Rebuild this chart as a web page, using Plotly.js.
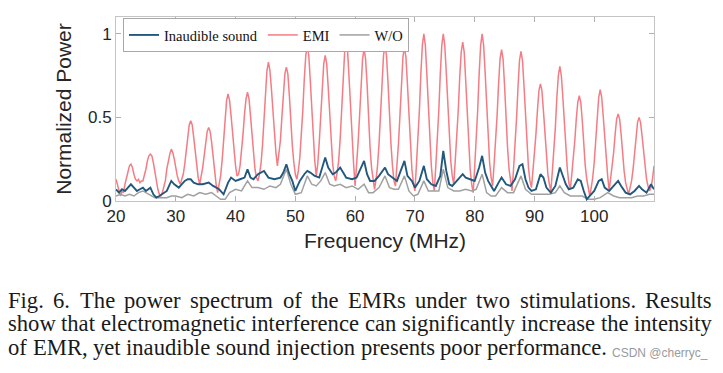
<!DOCTYPE html>
<html><head><meta charset="utf-8">
<script src="https://cdn.plot.ly/plotly-3.0.1.min.js"></script>
<style>html,body{margin:0;padding:0;background:#fff;}#chart{width:723px;height:373px;}</style>
</head><body><div id="chart"></div>
<script>
// ---------- data ----------
const seriesNames = ["Inaudible sound", "EMI", "W/O"];
const xTickVals = [20, 30, 40, 50, 60, 70, 80, 90, 100];
const xTickText = ["20", "30", "40", "50", "60", "70", "80", "90", "100"];
const yTickVals = [0, 0.5, 1];
const yTickText = ["0", "0.5", "1"];

// EMI spectrum sampled every 0.25 MHz from 20 MHz
const emiStartMHz = 20;
const emiStepMHz = 0.25;
const emiPower = [
0.13,0.09,0.05,0.03,0.06,0.05,0.10,0.14,0.18,0.21,0.22,0.20,0.16,0.13,0.12,0.13,0.11,0.12,0.12,0.15,
0.19,0.24,0.27,0.28,0.27,0.23,0.17,0.11,0.07,0.04,0.03,0.05,0.08,0.12,0.19,0.24,0.28,0.31,0.29,0.25,
0.19,0.15,0.12,0.10,0.13,0.16,0.22,0.30,0.385,0.455,0.48,0.455,0.38,0.29,0.21,0.14,0.10,0.14,0.20,0.27,
0.355,0.415,0.44,0.415,0.35,0.25,0.17,0.10,0.05,0.09,0.15,0.24,0.36,0.49,0.60,0.64,0.60,0.51,0.39,0.29,
0.21,0.15,0.16,0.21,0.29,0.40,0.52,0.61,0.65,0.61,0.51,0.39,0.27,0.19,0.14,0.12,0.16,0.22,0.33,0.48,
0.65,0.78,0.83,0.78,0.67,0.52,0.39,0.29,0.21,0.27,0.36,0.50,0.65,0.76,0.80,0.76,0.63,0.47,0.33,0.23,
0.16,0.13,0.18,0.26,0.38,0.54,0.73,0.87,0.93,0.87,0.72,0.53,0.36,0.24,0.15,0.22,0.35,0.50,0.68,0.82,
0.87,0.82,0.68,0.50,0.34,0.22,0.15,0.12,0.17,0.24,0.37,0.54,0.74,0.89,0.95,0.89,0.73,0.53,0.35,0.22,
0.09,0.21,0.35,0.51,0.70,0.85,0.91,0.85,0.70,0.50,0.32,0.20,0.12,0.07,0.13,0.21,0.34,0.51,0.71,0.87,
0.93,0.87,0.71,0.51,0.34,0.21,0.12,0.09,0.21,0.34,0.51,0.71,0.86,0.92,0.86,0.70,0.50,0.32,0.19,0.11,
0.06,0.21,0.35,0.54,0.76,0.93,1.00,0.93,0.76,0.54,0.35,0.21,0.11,0.06,0.21,0.35,0.54,0.76,0.93,1.00,
0.93,0.77,0.56,0.38,0.24,0.15,0.10,0.24,0.37,0.54,0.74,0.89,0.95,0.89,0.72,0.51,0.32,0.19,0.10,0.05,
0.20,0.35,0.54,0.76,0.93,1.00,0.93,0.77,0.56,0.37,0.23,0.14,0.09,0.22,0.34,0.51,0.70,0.85,0.905,0.85,
0.69,0.49,0.32,0.19,0.11,0.06,0.19,0.32,0.49,0.68,0.84,0.895,0.84,0.69,0.50,0.32,0.20,0.12,0.08,0.18,
0.27,0.40,0.54,0.66,0.70,0.66,0.54,0.39,0.26,0.16,0.10,0.06,0.18,0.29,0.44,0.62,0.75,0.805,0.75,0.62,
0.45,0.30,0.19,0.11,0.07,0.16,0.24,0.36,0.49,0.59,0.63,0.59,0.48,0.34,0.21,0.13,0.07,0.03,0.08,0.14,
0.23,0.36,0.51,0.62,0.665,0.62,0.51,0.37,0.24,0.15,0.06,0.13,0.20,0.29,0.40,0.49,0.52,0.49,0.40,0.28,
0.18,0.11,0.07,0.04,0.08,0.12,0.19,0.28,0.385,0.47,0.50,0.47,0.39,0.29,0.20,0.13,0.09,0.06,0.08,0.13,
0.21
];

// Inaudible sound spectrum (MHz, normalized power)
const inaudibleFreq = [
20.0,20.5,21.0,21.5,22.0,22.5,23.0,23.5,24.0,24.5,25.0,25.75,26.25,26.75,27.25,27.75,28.5,29.25,29.75,30.5,
31.0,31.5,32.0,32.5,33.0,33.75,34.5,35.5,36.25,37.25,38.0,38.75,39.25,40.0,40.75,41.5,42.0,42.5,43.0,43.75,
44.75,45.5,46.5,47.5,48.0,48.5,49.0,49.5,50.0,50.75,51.5,52.0,52.5,53.25,54.0,55.0,55.5,56.25,56.75,57.5,
58.0,58.5,59.5,60.25,61.5,62.0,62.5,63.25,64.0,65.0,65.5,66.25,67.0,68.25,68.75,69.5,70.0,70.75,71.5,72.0,
72.75,73.5,74.25,74.75,75.25,75.75,76.25,77.0,77.5,78.0,78.5,79.25,80.0,80.75,81.25,81.75,82.25,82.75,83.25,84.0,
84.5,85.25,86.0,86.75,87.5,88.0,88.5,89.0,89.5,90.25,91.0,91.5,92.0,92.75,93.5,94.25,94.75,95.25,95.75,96.5,
97.25,97.75,98.25,98.75,99.25,100.0,100.75,101.25,101.75,102.5,103.25,104.0,104.5,105.25,106.0,106.75,107.5,108.0,108.75,109.5,
110.0
];
const inaudiblePower = [
0.07,0.05,0.07,0.06,0.08,0.10,0.08,0.06,0.07,0.08,0.06,0.08,0.04,0.02,0.03,0.04,0.06,0.12,0.10,0.08,
0.10,0.12,0.13,0.13,0.11,0.10,0.10,0.11,0.09,0.07,0.04,0.11,0.14,0.12,0.13,0.14,0.19,0.14,0.13,0.16,
0.18,0.14,0.13,0.14,0.17,0.22,0.16,0.12,0.06,0.12,0.16,0.18,0.17,0.15,0.14,0.26,0.20,0.16,0.17,0.20,
0.17,0.14,0.13,0.14,0.24,0.16,0.12,0.12,0.15,0.20,0.16,0.14,0.12,0.24,0.15,0.12,0.08,0.12,0.21,0.13,
0.10,0.09,0.15,0.30,0.18,0.10,0.09,0.12,0.14,0.16,0.14,0.13,0.12,0.20,0.27,0.17,0.12,0.09,0.06,0.11,
0.14,0.10,0.09,0.13,0.21,0.22,0.13,0.08,0.06,0.07,0.16,0.14,0.08,0.05,0.09,0.20,0.15,0.10,0.07,0.08,
0.13,0.12,0.06,0.01,0.03,0.06,0.12,0.13,0.08,0.06,0.09,0.12,0.09,0.05,0.04,0.06,0.09,0.07,0.05,0.10,
0.07
];

// Without stimulation (MHz, normalized power)
const woFreq = [
20.0,20.75,21.5,22.25,23.0,23.75,24.5,25.0,25.75,26.5,27.5,28.5,29.25,30.0,31.0,32.0,33.0,34.0,35.0,36.0,
36.75,37.5,38.25,39.0,40.0,41.0,42.0,42.75,43.75,44.75,45.75,46.75,47.5,48.5,49.25,50.0,51.0,52.0,52.75,53.5,
54.25,55.0,55.75,56.5,57.5,58.5,59.5,60.5,61.5,62.25,63.0,64.0,65.0,65.75,66.5,67.25,68.25,69.0,69.75,70.5,
71.5,72.25,73.25,74.0,74.75,75.5,76.5,77.5,78.5,79.5,80.25,81.25,82.0,82.75,83.5,84.5,85.5,86.5,87.75,88.5,
89.5,90.5,91.5,92.5,93.5,94.25,95.0,96.0,97.0,98.0,99.0,100.0,101.0,102.25,103.25,104.25,105.25,106.25,107.25,108.25,
109.25,110.0
];
const woPower = [
0.03,0.04,0.03,0.04,0.03,0.05,0.06,0.05,0.03,0.02,0.02,0.02,0.03,0.03,0.02,0.04,0.03,0.05,0.04,0.05,
0.03,0.01,0.01,0.05,0.07,0.06,0.12,0.08,0.08,0.07,0.09,0.08,0.10,0.19,0.10,0.04,0.05,0.15,0.10,0.09,
0.12,0.17,0.10,0.09,0.10,0.08,0.09,0.07,0.10,0.05,0.05,0.08,0.15,0.08,0.07,0.07,0.15,0.06,0.03,0.04,
0.12,0.06,0.06,0.06,0.19,0.08,0.06,0.06,0.07,0.06,0.07,0.16,0.05,0.03,0.03,0.08,0.05,0.05,0.15,0.07,
0.04,0.04,0.04,0.04,0.05,0.09,0.05,0.03,0.03,0.03,0.01,0.01,0.02,0.05,0.03,0.02,0.02,0.02,0.03,0.03,
0.04,0.04
];

const captionLines = [
  "Fig. 6.  The power spectrum of the EMRs under two stimulations. Results",
  "show that electromagnetic interference can significantly increase the intensity",
  "of EMR, yet inaudible sound injection presents poor performance."
];
const watermarkText = "CSDN @cherryc_";

// ---------- layout geometry (pixels) ----------
const W = 723, H = 373;
const plotL = 116, plotR = 654, plotT = 17, plotB = 201;
const px2x = px => (px - plotL) / (plotR - plotL);
const py2y = py => (plotB - py) / (plotB - plotT);

const colors = { inaudible: "#22587e", emi: "#f47c84", wo: "#a0a0a0" };

const traces = [
  { type: "scatter", mode: "lines", name: seriesNames[1], x0: emiStartMHz, dx: emiStepMHz, y: emiPower,
    line: { color: colors.emi, width: 1.5 }, legendrank: 2 },
  { type: "scatter", mode: "lines", name: seriesNames[2], x: woFreq, y: woPower,
    line: { color: colors.wo, width: 1.5 }, legendrank: 3 },
  { type: "scatter", mode: "lines", name: seriesNames[0], x: inaudibleFreq, y: inaudiblePower,
    line: { color: colors.inaudible, width: 1.9 }, legendrank: 1 }
];

// caption: justified lines built from measured word widths
const capFamily = "Liberation Serif, Times New Roman, serif";
const capLeft = 8, capRight = 712;
const capY = [300, 323, 347];
const ctx = document.createElement("canvas").getContext("2d");
ctx.font = "20px 'Liberation Serif'";
const natural2 = ctx.measureText(captionLines[1]).width;
const capFontSize = Math.min(23, 20 * (capRight - capLeft) / natural2);
ctx.font = capFontSize + "px 'Liberation Serif'";
const annotations = [];
captionLines.forEach((line, li) => {
  const words = line.split(/\s+/);
  const widths = words.map(w => ctx.measureText(w).width);
  const total = widths.reduce((a, b) => a + b, 0);
  const spaceW = ctx.measureText(" ").width;
  const gap = li < 2 ? (capRight - capLeft - total) / (words.length - 1) : spaceW;
  let x = capLeft;
  words.forEach((w, k) => {
    annotations.push({
      text: w, xref: "paper", yref: "paper", x: px2x(x), y: py2y(capY[li]),
      xanchor: "left", yanchor: "middle", showarrow: false, borderpad: 0, borderwidth: 0,
      font: { family: capFamily, size: capFontSize, color: "#1a1a1a" }
    });
    x += widths[k] + gap;
  });
});
annotations.push({
  text: watermarkText, xref: "paper", yref: "paper", x: px2x(708), y: py2y(353),
  xanchor: "right", yanchor: "middle", showarrow: false, borderpad: 0, borderwidth: 0,
  font: { family: "Liberation Sans, Arial, sans-serif", size: 12, color: "#9a9a9a" }
});

const axisCommon = {
  showline: true, linecolor: "#c4c4c4", linewidth: 1, mirror: "ticks",
  ticks: "inside", ticklen: 5, tickcolor: "#b0b0b0", tickwidth: 1,
  showgrid: false, zeroline: false,
  tickfont: { family: "Liberation Sans, Arial, sans-serif", size: 17, color: "#262626" }
};

const layout = {
  width: W, height: H,
  margin: { l: plotL, r: W - plotR, t: plotT, b: H - plotB },
  paper_bgcolor: "#ffffff", plot_bgcolor: "#ffffff",
  showlegend: true,
  legend: {
    orientation: "h", x: px2x(123), y: py2y(18), xanchor: "left", yanchor: "top",
    bgcolor: "#ffffff", bordercolor: "#a8a8a8", borderwidth: 1,
    font: { family: capFamily, size: 14.5, color: "#111111" },
    tracegroupgap: 0, itemwidth: 30
  },
  xaxis: Object.assign({}, axisCommon, {
    range: [20, 110], tickvals: xTickVals, ticktext: xTickText,
    title: { text: "Frequency (MHz)", standoff: 7,
      font: { family: "Liberation Sans, Arial, sans-serif", size: 21, color: "#262626" } }
  }),
  yaxis: Object.assign({}, axisCommon, {
    range: [0, 1.1], tickvals: yTickVals, ticktext: yTickText,
    title: { text: "Normalized Power", standoff: 10,
      font: { family: "Liberation Sans, Arial, sans-serif", size: 21, color: "#262626" } }
  }),
  annotations: annotations
};

Plotly.newPlot("chart", traces, layout, { displayModeBar: false, staticPlot: true });
</script>
</body></html>
